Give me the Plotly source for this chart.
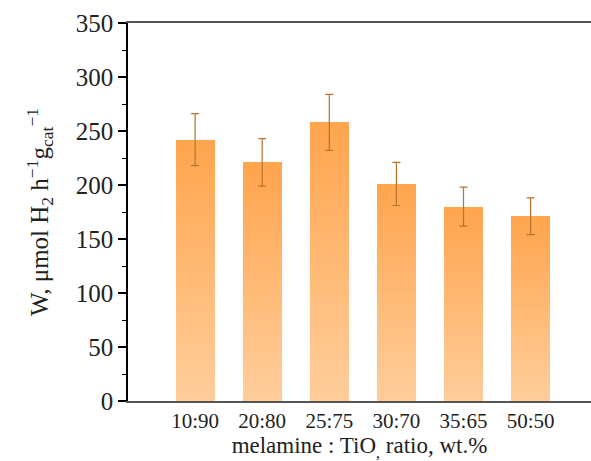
import plotly.graph_objects as go

categories = ["10:90", "20:80", "25:75", "30:70", "35:65", "50:50"]
values = [242, 221, 258, 201, 180, 171]
errors = [24, 22, 26, 20, 18, 17]
y_ticks = [0, 50, 100, 150, 200, 250, 300, 350]

N = 40
top_rgb = (255, 165, 78)
bot_rgb = (255, 205, 155)

fig = go.Figure()
for k in range(N):
    f = k / (N - 1)
    c = tuple(round(bot_rgb[j] + (top_rgb[j] - bot_rgb[j]) * f) for j in range(3))
    fig.add_trace(go.Bar(
        x=categories,
        y=[v / N for v in values],
        width=0.58,
        marker=dict(color=f"rgb{c}", line=dict(width=0)),
        showlegend=False,
        hoverinfo="skip",
    ))

fig.add_trace(go.Scatter(
    x=categories, y=values, mode="markers", marker=dict(size=0.1, color="rgba(0,0,0,0)"),
    error_y=dict(type="data", array=errors, color="#b8722a", thickness=1.2, width=4),
    showlegend=False, hoverinfo="skip",
))

font = "Liberation Serif, Times New Roman, serif"
fig.update_layout(
    width=591, height=461,
    margin=dict(l=128, r=0, t=23, b=60),
    paper_bgcolor="white", plot_bgcolor="white",
    barmode="stack", bargap=0.42,
    font=dict(family=font, color="#222"),
    xaxis=dict(
        type="category", range=[-1.0, 5.9],
        showline=True, linecolor="#555", linewidth=2, mirror=True,
        ticks="", tickfont=dict(size=21, family=font, color="#222"),
        title=dict(text="melamine : TiO<sub>,</sub> ratio, wt.%", font=dict(size=23, family=font), standoff=4),
        showgrid=False, zeroline=False,
    ),
    yaxis=dict(
        range=[0, 350], tickvals=y_ticks,
        showline=True, linecolor="black", linewidth=1.5,
        ticks="outside", ticklen=8, tickwidth=1.5, tickcolor="black",
        minor=dict(ticks="outside", ticklen=4, tickwidth=1.2, dtick=25, tickcolor="black"),
        tickfont=dict(size=25, family=font, color="#222"),
        title=dict(text="W, μmol H<sub>2</sub> h<sup>−1</sup>g<sub>cat</sub><sup>−1</sup>",
                   font=dict(size=25, family=font), standoff=20),
        showgrid=False, zeroline=False,
    ),
)

fig.write_html("out.html")
